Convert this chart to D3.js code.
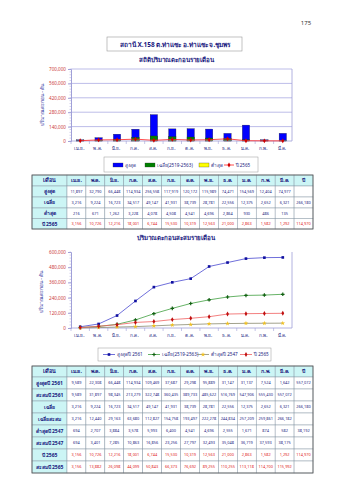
<!DOCTYPE html>
<html><head><meta charset="utf-8">
<script src="https://cdn.jsdelivr.net/npm/d3@7"></script>
<style>body{margin:0;background:#fff}svg{display:block}text{font-family:"Noto Sans","DejaVu Sans",sans-serif}</style>
</head><body><svg id="c" width="339" height="480"></svg>
<script>
const months = ["เม.ย.","พ.ค.","มิ.ย.","ก.ค.","ส.ค.","ก.ย.","ต.ค.","พ.ย.","ธ.ค.","ม.ค.","ก.พ.","มี.ค."];
const maxMonthly = [11897,32790,66448,114934,256558,117919,120172,115989,74471,154569,12404,74977];
const avgMonthly = [3216,9224,16723,34517,49147,41931,38739,28781,22556,12375,2652,6321];
const minMonthly = [216,671,1262,3228,4078,4508,4541,4696,2864,930,486,135];
const y2565 = [3156,10726,12216,18001,6744,15530,10319,12563,21000,2863,1582,1292];
const max2561 = [9589,22308,66448,114934,109469,37687,29298,95889,31147,31137,7524,1642];
const min2547 = [694,2707,3884,3578,5993,6400,4541,4696,2555,1671,874,582];
const totals = {max2561:"557,072", avg:"266,180", min2547:"38,192", y2565:"114,970"};
const ticks1 = [0,140000,280000,420000,560000,700000];
const ticks2 = [0,120000,240000,360000,480000,600000];

const svg = d3.select("#c");
const fmt = d3.format(",");
const navy = "#1a1a80", red = "#e02020";

svg.append("text").attr("x",306).attr("y",25).attr("font-size",6).attr("fill","#333").attr("text-anchor","middle").text("175");
svg.append("rect").attr("x",107).attr("y",37).attr("width",135).attr("height",14).attr("fill","none").attr("stroke","#999").attr("stroke-width",0.6);
svg.append("text").attr("x",175).attr("y",46.5).attr("font-size",6.5).attr("font-weight","bold").attr("fill",navy).attr("text-anchor","middle").text("สถานี X.158  ต.ท่าแซะ อ.ท่าแซะ  จ.ชุมพร");
svg.append("text").attr("x",176).attr("y",62).attr("font-size",6.2).attr("font-weight","bold").attr("fill",navy).attr("text-anchor","middle").text("สถิติปริมาณตะกอนรายเดือน");
svg.append("text").attr("x",176).attr("y",240).attr("font-size",6.2).attr("font-weight","bold").attr("fill",navy).attr("text-anchor","middle").text("ปริมาณตะกอนสะสมรายเดือน");

const X0 = 71, X1 = 292;
function axes(g, y, ticks, top, bottom, grid){
  if(grid){
    g.selectAll(".gl").data(ticks.slice(1)).join("line").attr("x1",X0).attr("x2",X1)
     .attr("y1",d=>y(d)).attr("y2",d=>y(d)).attr("stroke","#a0a0e0").attr("stroke-width",0.7);
  }
  g.append("line").attr("x1",X1).attr("x2",X1).attr("y1",top).attr("y2",bottom).attr("stroke","#a0a0d8").attr("stroke-width",0.8);
  const ya = d3.axisLeft(y).tickValues(ticks).tickFormat(fmt).tickSize(3);
  const ag = g.append("g").attr("transform",`translate(${X0},0)`).call(ya);
  ag.select(".domain").attr("stroke","#a0a0d8");
  ag.selectAll(".tick line").attr("stroke","#a0a0d8");
  ag.selectAll("text").attr("font-size",4.6).attr("fill","#cc3a3a").attr("x",-5);
  const step = ticks[1]/5;
  const minor = d3.range(0, ticks[ticks.length-1]+1, step);
  g.selectAll(".mn").data(minor).join("line").attr("x1",X0-1.5).attr("x2",X0).attr("y1",d=>y(d)).attr("y2",d=>y(d)).attr("stroke","#a0a0d8").attr("stroke-width",0.5);
}
function xaxis(g, yb){
  const xb = d3.scaleBand().domain(months).range([X0,X1]);
  g.append("line").attr("x1",X0).attr("x2",X1).attr("y1",yb).attr("y2",yb).attr("stroke","#a0a0d8").attr("stroke-width",0.8);
  g.selectAll(".xt").data(months).join("line").attr("x1",d=>xb(d)).attr("x2",d=>xb(d)).attr("y1",yb).attr("y2",yb+3).attr("stroke","#a0a0d8").attr("stroke-width",0.6);
  g.selectAll(".xl").data(months).join("text").attr("x",d=>xb(d)+xb.bandwidth()/2-1).attr("y",yb+8.5)
   .attr("font-size",4.6).attr("fill",navy).attr("text-anchor","middle").text(d=>d);
}
function ytitle(x, y){
  svg.append("text").attr("transform",`translate(${x},${y}) rotate(-90)`).attr("font-size",5).attr("fill","#3030a0").attr("text-anchor","middle").text("ปริมาณตะกอน - ตัน");
}

// Chart 1
const g1 = svg.append("g");
const y1 = d3.scaleLinear().domain([0,700000]).range([141,69]);
axes(g1, y1, ticks1, 69, 141, true);
const xb1 = d3.scaleBand().domain(months).range([X0,X1]).paddingInner(0.6).paddingOuter(0.3);
const series1 = [[maxMonthly,"#0000ff"],[avgMonthly,"#008000"],[minMonthly,"#ffff00"]];
series1.forEach(([vals,col])=>{
  g1.selectAll(null).data(months).join("rect").attr("x",d=>xb1(d)).attr("width",xb1.bandwidth())
   .attr("y",(d,i)=>y1(vals[i])).attr("height",(d,i)=>y1(0)-y1(vals[i])).attr("fill",col).attr("stroke","#222").attr("stroke-width",0.3);
});
xaxis(g1, 141);
const xp = d3.scalePoint().domain(months).range([X0,X1]).padding(0.5);
const line1 = d3.line().x((d,i)=>xp(months[i])).y(d=>y1(d));
g1.append("path").attr("d",line1(y2565)).attr("fill","none").attr("stroke","#ff2020").attr("stroke-width",0.8);
g1.selectAll(null).data(y2565).join("path").attr("transform",(d,i)=>`translate(${xp(months[i])},${y1(d)})`)
  .attr("d",d3.symbol(d3.symbolDiamond,7)).attr("fill","#d00000");
ytitle(44,105);

// Legend 1
const lg1 = svg.append("g");
lg1.append("rect").attr("x",104).attr("y",157).attr("width",154).attr("height",15).attr("fill","none").attr("stroke","#999").attr("stroke-width",0.5);
const leg1 = [["สูงสุด","#0000ff",113,"rect"],["เฉลี่ย(2519-2563)","#008000",145,"rect"],["ต่ำสุด","#ffff00",199,"rect"],["ปี 2565","#ff2020",224,"line"]];
leg1.forEach(([t,c,x,k])=>{
  if(k==="rect") lg1.append("rect").attr("x",x).attr("y",163).attr("width",10).attr("height",4).attr("fill",c).attr("stroke","#333").attr("stroke-width",0.3);
  else { lg1.append("line").attr("x1",x).attr("x2",x+10).attr("y1",165).attr("y2",165).attr("stroke",c).attr("stroke-width",0.8);
    lg1.append("path").attr("transform",`translate(${x+5},165)`).attr("d",d3.symbol(d3.symbolDiamond,7)).attr("fill","#d00000"); }
  lg1.append("text").attr("x",x+11.5).attr("y",167).attr("font-size",4.6).attr("fill",navy).text(t);
});

// Tables
const colX = d3.range(14).map(i=>67 + i*(313-67)/13);
function drawTable(top, headerH, rows){
  const g = svg.append("g");
  let y = top;
  const all = [{label:"เดือน", vals:months, total:"ปี", h:headerH, header:true}].concat(rows);
  all.forEach(r=>{
    g.append("rect").attr("x",32).attr("y",y).attr("width",35).attr("height",r.h).attr("fill","#ccf5f5").attr("stroke","#8a9aa8").attr("stroke-width",0.5);
    g.append("text").attr("x",49.5).attr("y",y+r.h/2+1.8).attr("font-size",r.header?5.4:5).attr("font-weight","bold").attr("fill",navy).attr("text-anchor","middle").text(r.label);
    const cells = r.vals.concat([r.total]);
    cells.forEach((v,i)=>{
      g.append("rect").attr("x",colX[i]).attr("y",y).attr("width",colX[i+1]-colX[i]).attr("height",r.h)
       .attr("fill",r.header?"#ccf5f5":"#fff").attr("stroke","#8a9aa8").attr("stroke-width",0.5);
      const s = r.header ? v : (v===""||v==null ? "" : (typeof v==="number"?fmt(v):v));
      g.append("text").attr("x",(colX[i]+colX[i+1])/2).attr("y",y+r.h/2+(r.header?1.8:1.4)).attr("font-size",r.header?5.2:3.9)
       .attr("font-weight",r.header?"bold":"normal").attr("fill",r.header?navy:(r.color||navy)).attr("text-anchor","middle").text(s);
    });
    y += r.h;
  });
  g.append("rect").attr("x",32).attr("y",top).attr("width",313-32).attr("height",y-top).attr("fill","none").attr("stroke","#555").attr("stroke-width",0.8);
}
drawTable(175, 11, [
  {label:"สูงสุด", vals:maxMonthly, total:"", h:11},
  {label:"เฉลี่ย", vals:avgMonthly, total:totals.avg, h:11},
  {label:"ต่ำสุด", vals:minMonthly, total:"", h:10.5},
  {label:"ปี 2565", vals:y2565, total:totals.y2565, h:10.5, color:red}
]);

// Chart 2
const cumMax = Array.from(d3.cumsum(max2561));
const cumAvg = Array.from(d3.cumsum(avgMonthly));
const cumMin = Array.from(d3.cumsum(min2547));
const cum65 = Array.from(d3.cumsum(y2565));
const g2 = svg.append("g");
const y2 = d3.scaleLinear().domain([0,600000]).range([328,252]);
axes(g2, y2, ticks2, 252, 328, false);
xaxis(g2, 328);
const series2 = [
  [cumMax,"#4a4ad0","#1010a0",d3.symbolSquare,"สูงสุดปี 2561",103],
  [cumAvg,"#40a040","#106010",d3.symbolCross,"เฉลี่ย(2519-2563)",148],
  [cumMin,"#8a8a70","#f0c020",d3.symbolStar,"ต่ำสุดปี 2547",197],
  [cum65,"#f06060","#c01010",d3.symbolDiamond,"ปี 2565",240]
];
const line2 = d3.line().x((d,i)=>xp(months[i])).y(d=>y2(d));
series2.forEach(([vals,lc,mc,sym])=>{
  g2.append("path").attr("d",line2(vals)).attr("fill","none").attr("stroke",lc).attr("stroke-width",0.8);
  g2.selectAll(null).data(vals).join("path").attr("transform",(d,i)=>`translate(${xp(months[i])},${y2(d)})`)
    .attr("d",d3.symbol(sym,7)).attr("fill",mc);
});
ytitle(43,292);
const lg2 = svg.append("g");
lg2.append("rect").attr("x",98).attr("y",348).attr("width",173).attr("height",13).attr("fill","none").attr("stroke","#999").attr("stroke-width",0.5);
series2.forEach(([vals,lc,mc,sym,t,x])=>{
  lg2.append("line").attr("x1",x).attr("x2",x+12).attr("y1",354.5).attr("y2",354.5).attr("stroke",lc).attr("stroke-width",0.8);
  lg2.append("path").attr("transform",`translate(${x+6},354.5)`).attr("d",d3.symbol(sym,7)).attr("fill",mc);
  lg2.append("text").attr("x",x+14).attr("y",356.3).attr("font-size",4.6).attr("fill",navy).text(t);
});

drawTable(366, 11, [
  {label:"สูงสุดปี 2561", vals:max2561, total:totals.max2561, h:12},
  {label:"สะสมปี 2561", vals:cumMax, total:"", h:12},
  {label:"เฉลี่ย", vals:avgMonthly, total:totals.avg, h:12},
  {label:"เฉลี่ยสะสม", vals:cumAvg, total:"", h:12},
  {label:"ต่ำสุดปี 2547", vals:min2547, total:totals.min2547, h:12},
  {label:"สะสมปี 2547", vals:cumMin, total:"", h:12},
  {label:"ปี 2565", vals:y2565, total:totals.y2565, h:12, color:red},
  {label:"สะสมปี 2565", vals:cum65, total:"", h:12, color:red}
]);
</script></body></html>
